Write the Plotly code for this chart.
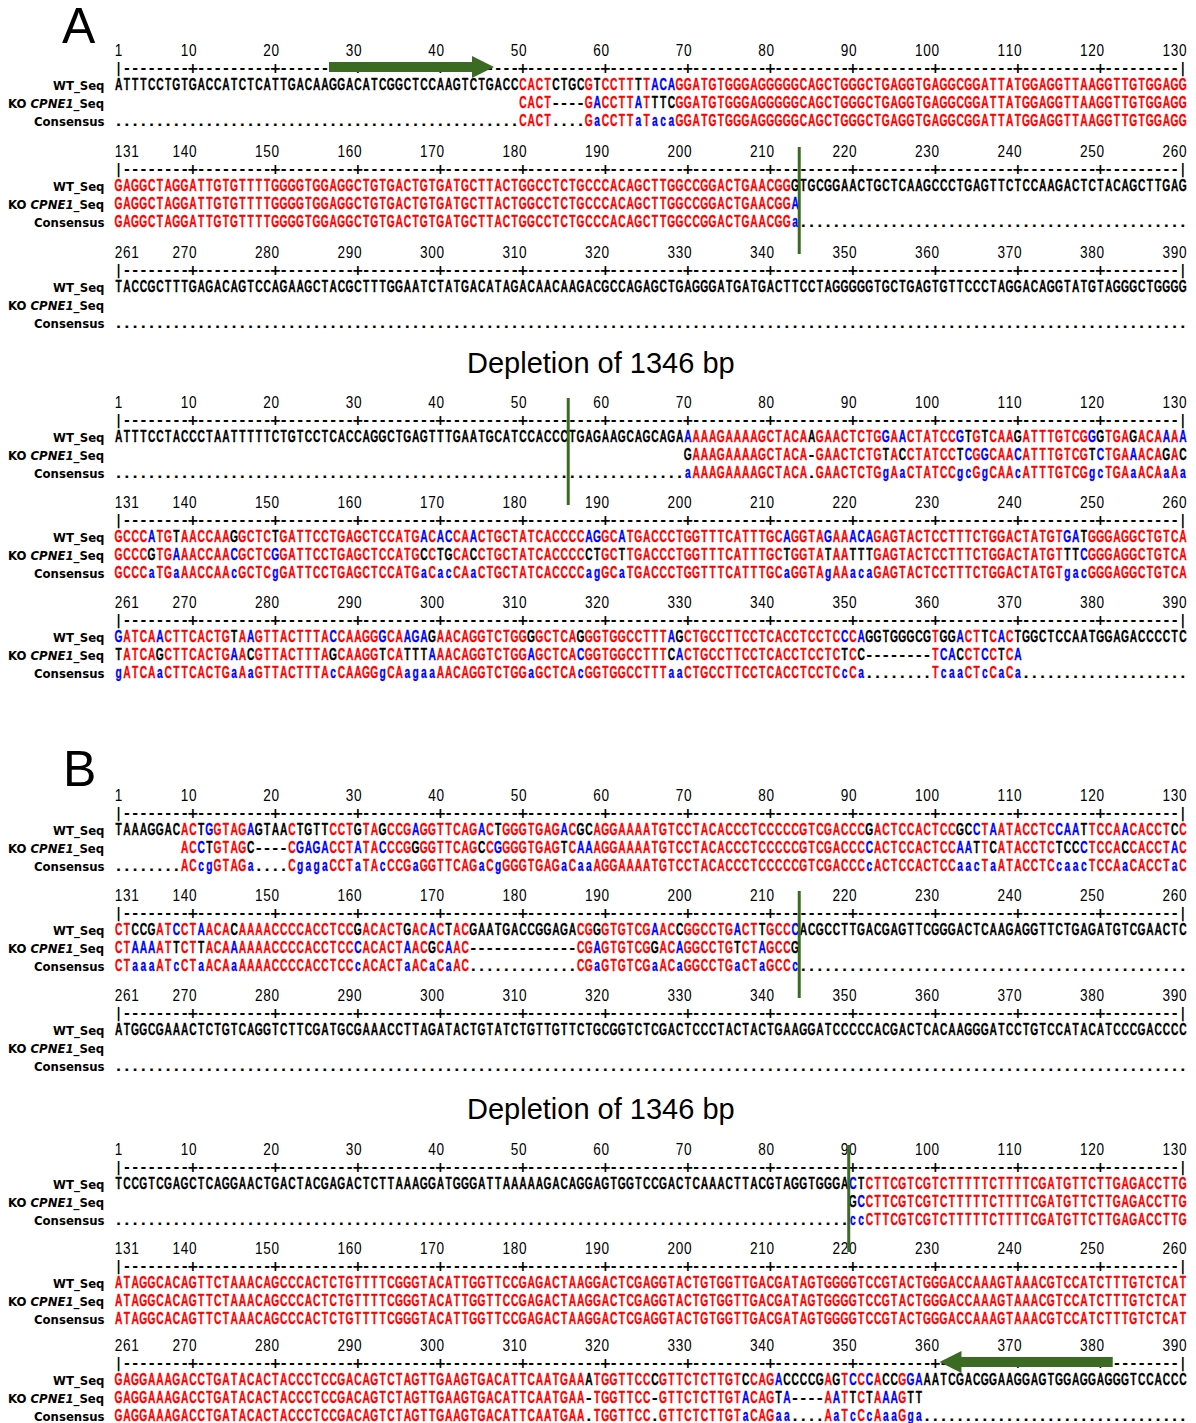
import plotly.graph_objects as go

# ---------------------------------------------------------------- data
BLOCK_STARTS = [1, 131, 261, 1, 131, 261]          # ruler start of each block
ROW_LABELS = ["WT_Seq", "KO <i>CPNE1</i>_Seq", "Consensus"]
PANEL_LETTERS = ["A", "B"]
TITLE_TEXT = "Depletion of 1346 bp"

A_WT = [
    "ATTTCCTGTGACCATCTCATTGACAAGGACATCGGCTCCAAGTCTGACC" + "CACTCTGCGTCCTTTTACA"
    + "GGATGTGGGAGGGGGCAGCTGGGCTGAGGTGAGGCGGATTATGGAGGTTAAGGTTGTGGAGG",
    "GAGGCTAGGATTGTGTTTTGGGGTGGAGGCTGTGACTGTGATGCTTACTGGCCTCTGCCCACAGCTTGGCCGGACTGAACGGG"
    + "TGCGGAACTGCTCAAGCCCTGAGTTCTCCAAGACTCTACAGCTTGAG",
    "TACCGCTTTGAGACAGTCCAGAAGCTACGCTTTGGAATCTATGACATAGACAACAAGACGCCAGAGCTGAGGGATGATGACTTCCTAGGGGGTGCTGAGTGTTCCCTAGGACAGGTATGTAGGGCTGGGG",
    "ATTTCCTACCCTAATTTTTCTGTCCTCACCAGGCTGAGTTTGAATGCATCCACCCTGAGAAGCAGCAGA"
    + "AAAAGAAAAGCTACAAGAACTCTGGAACTATCCGTGTCAAGATTTGTCGGGTGAGACAAAA",
    "GCCCATGTAACCAAGGCTCTGATTCCTGAGCTCCATGACACCAACTGCTATCACCCCAGGCATGACCCTGGTTTCATTTGCAGGTAGAAACAGAGTACTCCTTTCTGGACTATGTGATGGGAGGCTGTCA",
    "GATCAACTTCACTGTAAGTTACTTTACCAAGGGCAAGAGAACAGGTCTGGGGCTCAGGGTGGCCTTTAGCTGCCTTCCTCACCTCCTCCCAGGTGGGCGTGGACTTCACTGGCTCCAATGGAGACCCCTC",
]
A_KO = [
    " " * 49 + "CACT----GACCTTATTTC"
    + "GGATGTGGGAGGGGGCAGCTGGGCTGAGGTGAGGCGGATTATGGAGGTTAAGGTTGTGGAGG",
    "GAGGCTAGGATTGTGTTTTGGGGTGGAGGCTGTGACTGTGATGCTTACTGGCCTCTGCCCACAGCTTGGCCGGACTGAACGGA",
    "",
    " " * 69 + "GAAAGAAAAGCTACA-GAACTCTGTACCTATCCTCGGCAACATTTGTCGTCTGAAACAGAC",
    "GCCCGTGAAACCAACGCTCGGATTCCTGAGCTCCATGCCTGCACCTGCTATCACCCCCTGCTTGACCCTGGTTTCATTTGCTGGTATAATTTGAGTACTCCTTTCTGGACTATGTTTCGGGAGGCTGTCA",
    "TATCAGCTTCACTGAACGTTACTTTAGCAAGGTCATTTAAACAGGTCTGGAGCTCACGGTGGCCTTTCACTGCCTTCCTCACCTCCTCTCC--------TCACCTCCTCA",
]
B_WT = [
    "TAAAGGACACTGGTAGAGTAACTGTTCCTGTAGCCGAGGTTCAGACTGGGTGAGACGCAGGAAAATGTCCTACACCCTCCCCCGTCGACCCGACTCCACTCCGCCTAATACCTCCAATTCCAACACCTCC",
    "CTCCGATCCTAACACAAAACCCCACCTCCGACACTGACACTACGAATGACCGGAGACGGGTGTCGAACCGGCCTGACTTGCCCACGCCTTGACGAGTTCGGGACTCAAGAGGTTCTGAGATGTCGAACTC",
    "ATGGCGAAACTCTGTCAGGTCTTCGATGCGAAACCTTAGATACTGTATCTGTTGTTCTGCGGTCTCGACTCCCTACTACTGAAGGATCCCCCACGACTCACAAGGGATCCTGTCCATACATCCCGACCCC",
    "TCCGTCGAGCTCAGGAACTGACTACGAGACTCTTAAAGGATGGGATTAAAAAGACAGGAGTGGTCCGACTCAAACTTACGTAGGTGGGA"
    + "CT" + "CTTCGTCGTCTTTTTCTTTTCGATGTTCTTGAGACCTTG",
    "ATAGGCACAGTTCTAAACAGCCCACTCTGTTTTCGGGTACATTGGTTCCGAGACTAAGGACTCGAGGTACTGTGGTTGACGATAGTGGGGTCCGTACTGGGACCAAAGTAAACGTCCATCTTTGTCTCAT",
    "GAGGAAAGACCTGATACACTACCCTCCGACAGTCTAGTTGAAGTGACATTCAATGAAATGGTTCCCGTTCTCTTGTCCAGACCCCGAGTCCCACCGGAAATCGACGGAAGGAGTGGAGGAGGGTCCACCC",
]
B_KO = [
    " " * 8 + "ACCTGTAGC----CGAGACCTATACCCGGGGTTCAGCCGGGGTGAGTCAAAGGAAAATGTCCTACACCCTCCCCCGTCGACCCCACTCCACTCCAATTCATACCTCTCCCTCCACCACCTAC",
    "CTAAAATTCTTACAAAAAACCCCACCTCCCACACTAACGCAAC" + "-" * 13 + "CGAGTGTCGGACAGGCCTGTCTAGCCG",
    "",
    " " * 89 + "GC" + "CTTCGTCGTCTTTTTCTTTTCGATGTTCTTGAGACCTTG",
    "ATAGGCACAGTTCTAAACAGCCCACTCTGTTTTCGGGTACATTGGTTCCGAGACTAAGGACTCGAGGTACTGTGGTTGACGATAGTGGGGTCCGTACTGGGACCAAAGTAAACGTCCATCTTTGTCTCAT",
    "GAGGAAAGACCTGATACACTACCCTCCGACAGTCTAGTTGAAGTGACATTCAATGAA-TGGTTCC-GTTCTCTTGTACAGTA----AATTCTAAAGTT",
]

# cut sites: (panel, block, last column before the cut)
CUT_SITES = [(0, 1, 83), (0, 3, 55), (1, 1, 83), (1, 3, 89)]
# primers: (panel, block, first column, last column, direction)
PRIMERS = [(0, 0, 27, 46, 1), (1, 5, 101, 121, -1)]

# ---------------------------------------------------------------- layout constants
W, H = 1196, 1423
NCOL = 130
CELL = 8.25                       # px per alignment column
COL1_PX = 118.6                   # pixel centre of column 1
X0 = 1 - COL1_PX / CELL
X1 = X0 + W / CELL
BLOCK_TOP = [[52, 153, 254, 404, 504, 604], [797, 897, 997, 1151, 1250, 1347]]
ROW_OFF = [0, 17, 33.5, 51.5, 69.5]   # numbers, ruler, WT, KO, consensus
LETTER_Y = [26, 769]
TITLE_Y = [363, 1109]
RED, BLUE, BLACK = "#ff0000", "#0000ff", "#000000"
GREEN = "#3b6b22"
SEQ_FONT = "Liberation Sans, Arial, sans-serif"
LAB_FONT = "Liberation Sans Narrow, DejaVu Sans Condensed, Arial Narrow, sans-serif"
RULER_FONT = "DejaVu Sans, sans-serif"


def pad(s):
    return (s + " " * NCOL)[:NCOL]


def consensus(wt, ko):
    out = []
    for a, b in zip(pad(wt), pad(ko)):
        if a in " -" or b in " -":
            out.append(".")
        elif a == b:
            out.append(a.upper())
        else:
            out.append(min(a, b).lower())
    return "".join(out)


def char_color(ch, c):
    if ch in " -." or c == ".":
        return BLACK
    if c.isupper() and ch == c:
        return RED
    if c.islower() and ch.upper() == c.upper():
        return BLUE
    return BLACK


def ruler_numbers(start):
    cells = [" "] * NCOL
    s = str(start)
    for i, ch in enumerate(s):
        cells[i] = ch
    k = (start // 10 + 1) * 10
    while k <= start + NCOL - 1:
        s = str(k)
        end = k - start
        for j, ch in enumerate(s):
            cells[end - len(s) + 1 + j] = ch
        k += 10
    return "".join(cells)


def ruler_line(start):
    cells = []
    for c in range(NCOL):
        if c == 0 or c == NCOL - 1:
            cells.append("|")
        elif (start + c) % 10 == 0:
            cells.append("+")
        else:
            cells.append("-")
    return "".join(cells)


class Layer:
    def __init__(self, keep=None):
        self.x, self.y, self.t, self.c = [], [], [], []
        self.keep = keep

    def add(self, text, y, colors):
        for i, ch in enumerate(text):
            if ch == " ":
                continue
            if self.keep is not None and not self.keep(ch):
                continue
            self.x.append(i + 1)
            self.y.append(y)
            self.t.append(ch)
            self.c.append(colors[i])


nums, rule = Layer(), Layer()
seqs = Layer(lambda ch: ch not in ".-")
punct = Layer(lambda ch: ch in ".-")
annotations = []
shapes = []

for p, (wts, kos) in enumerate([(A_WT, A_KO), (B_WT, B_KO)]):
    for b in range(6):
        top = BLOCK_TOP[p][b]
        start = BLOCK_STARTS[b]
        wt, ko = pad(wts[b]), pad(kos[b])
        cons = consensus(wt, ko)
        nums.add(ruler_numbers(start), top + ROW_OFF[0], [BLACK] * NCOL)
        rule.add(ruler_line(start), top + ROW_OFF[1], [BLACK] * NCOL)
        rows = [
            (wt, [char_color(a, c) for a, c in zip(wt, cons)]),
            (ko, [char_color(a, c) for a, c in zip(ko, cons)]),
            (cons, [BLACK if c == "." else (RED if c.isupper() else BLUE) for c in cons]),
        ]
        for r, (txt, cols) in enumerate(rows):
            seqs.add(txt, top + ROW_OFF[2 + r], cols)
            punct.add(txt, top + ROW_OFF[2 + r], cols)
        for r, lab in enumerate(ROW_LABELS):
            annotations.append(dict(
                x=X0 + 106 / CELL, y=top + ROW_OFF[2 + r], xref="x", yref="y",
                text=lab, showarrow=False, xanchor="right", yanchor="middle",
                font=dict(family=LAB_FONT, size=13, color=BLACK, weight="bold")))
    annotations.append(dict(
        x=X0 + 79 / CELL, y=LETTER_Y[p], xref="x", yref="y", text=PANEL_LETTERS[p],
        showarrow=False, xanchor="center", yanchor="middle",
        font=dict(family="Liberation Sans, Arial, sans-serif", size=50, color=BLACK)))
    annotations.append(dict(
        x=X0 + 600.5 / CELL, y=TITLE_Y[p], xref="x", yref="y", text=TITLE_TEXT,
        showarrow=False, xanchor="center", yanchor="middle",
        font=dict(family="Liberation Sans, Arial, sans-serif", size=29, color=BLACK)))

for p, b, col in CUT_SITES:
    top = BLOCK_TOP[p][b]
    shapes.append(dict(type="line", xref="x", yref="y", x0=col + 0.5, x1=col + 0.5,
                       y0=top - 6, y1=top + 101, line=dict(color=GREEN, width=3)))

for p, b, c0, c1, d in PRIMERS:
    y = BLOCK_TOP[p][b] + ROW_OFF[1] - 2
    left, right = c0 - 0.5, c1 + 0.5
    head = 22 / CELL
    if d > 0:
        xb0, xb1, xh, xt = left, right - head, right - head, right
    else:
        xb0, xb1, xh, xt = right, left + head, left + head, left
    path = (f"M {xb0},{y - 5} L {xb1},{y - 5} L {xh},{y - 11} L {xt},{y} "
            f"L {xh},{y + 11} L {xb1},{y + 5} L {xb0},{y + 5} Z")
    shapes.append(dict(type="path", xref="x", yref="y", path=path,
                       fillcolor=GREEN, line=dict(color=GREEN, width=0)))


def text_trace(layer, family, size, weight):
    return go.Scatter(
        x=layer.x, y=layer.y, text=layer.t, mode="text", textposition="middle center",
        textfont=dict(family=family, size=size, color=layer.c, weight=weight),
        hoverinfo="skip", showlegend=False)


fig = go.Figure([
    text_trace(nums, SEQ_FONT, 16, "normal"),
    text_trace(rule, RULER_FONT, 14, "bold"),
    text_trace(seqs, SEQ_FONT, 16.5, "bold"),
    text_trace(punct, SEQ_FONT, 16.5, "bold"),
])

fig.update_layout(
    width=W, height=H, margin=dict(l=0, r=0, t=0, b=0),
    paper_bgcolor="white", plot_bgcolor="white",
    xaxis=dict(range=[X0, X1], visible=False, fixedrange=True),
    yaxis=dict(range=[H, 0], visible=False, fixedrange=True),
    annotations=annotations, shapes=shapes, hovermode=False,
)

# horizontal condensing of the glyphs (numbers, letters), slight stroke, no page margin
POST = """
document.body.style.margin = '0';
var gd = document.getElementById('{plot_id}');
var SX = [0.85, 1.0, 0.62, 1.0];
var SW = [0, 0, 0.35, 0.2];
var tr = gd.querySelectorAll('g.scatterlayer g.trace');
tr.forEach(function (g, i) {
  var s = SX[i];
  if (s === undefined) return;
  g.querySelectorAll('g.textpoint text').forEach(function (t) {
    var x = parseFloat(t.getAttribute('x')) || 0;
    if (s !== 1) {
      t.setAttribute('transform', 'matrix(' + s + ',0,0,1,' + (x * (1 - s)) + ',0)');
    }
    if (SW[i] > 0) {
      t.style.stroke = t.style.fill;
      t.style.strokeWidth = SW[i] + 'px';
    }
  });
});
"""

fig.write_html("out.html", post_script=POST, config={"displayModeBar": False})
